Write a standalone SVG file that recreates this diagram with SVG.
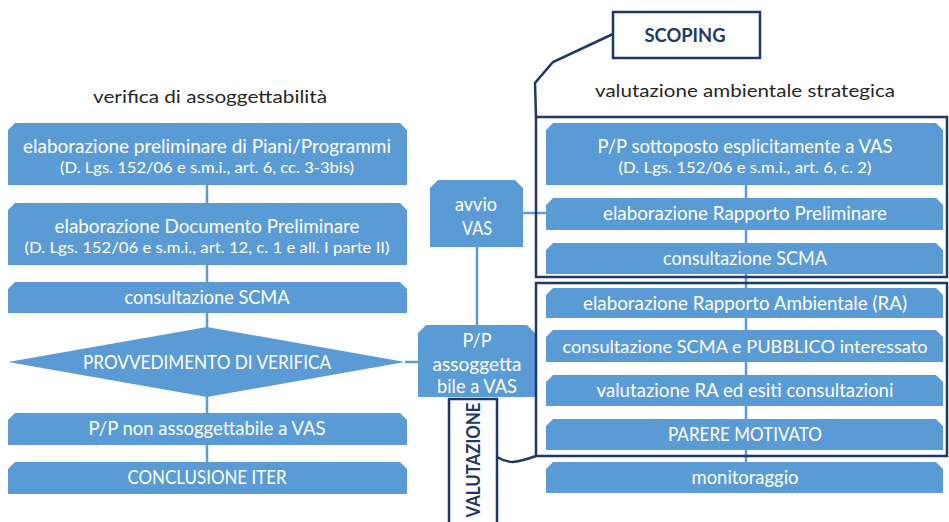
<svg xmlns="http://www.w3.org/2000/svg" width="949" height="522" viewBox="0 0 949 522">
<style>
.bg{fill:#fff}
.box{fill:#5B9BD5}
.t{font-family:Lato,'Liberation Sans',sans-serif;fill:#fff;text-anchor:middle;font-size:19.5px}
.s{font-size:15px}
.n{font-size:18px}
.h{font-family:Lato,'Liberation Sans',sans-serif;fill:#262626;text-anchor:middle;font-size:18px}
.lab{font-family:Lato,'Liberation Sans',sans-serif;fill:#1F3864;text-anchor:middle;font-size:19px;font-weight:bold}
.frame{fill:none;stroke:#1F3864;stroke-width:2.5}
.lbox{fill:#fff;stroke:#1F3864;stroke-width:2.5}
.conn{fill:none;stroke:#5B9BD5;stroke-width:2.5}
</style>
<rect class="bg" x="0" y="0" width="949" height="522"/>

<g id="connectors">
  <line class="conn" x1="207" y1="185" x2="207" y2="462"/>
  <line class="conn" x1="405" y1="362" x2="418" y2="362"/>
  <line class="conn" x1="477" y1="247" x2="477" y2="325"/>
  <line class="conn" x1="523" y1="213" x2="546" y2="213"/>
  <line class="conn" x1="746" y1="185" x2="746" y2="462"/>
</g>

<g id="headers">
  <text class="h" x="210" y="103" textLength="234" lengthAdjust="spacingAndGlyphs">verifica di assoggettabilità</text>
  <text class="h" x="745" y="97" textLength="300" lengthAdjust="spacingAndGlyphs">valutazione ambientale strategica</text>
</g>

<g id="v1">
  <path class="box" d="M8,130 L15,123 L400,123 L407,130 L407,185 L8,185 Z"/>
  <text class="t" x="207" y="153" textLength="368" lengthAdjust="spacingAndGlyphs">elaborazione preliminare di Piani/Programmi</text>
  <text class="t s" x="207" y="173" textLength="294" lengthAdjust="spacingAndGlyphs">(D. Lgs. 152/06 e s.m.i., art. 6, cc. 3-3bis)</text>
</g>
<g id="v2">
  <path class="box" d="M8,210 L15,203 L400,203 L407,210 L407,265 L8,265 Z"/>
  <text class="t" x="207" y="233" textLength="305" lengthAdjust="spacingAndGlyphs">elaborazione Documento Preliminare</text>
  <text class="t s" x="207" y="253" textLength="365" lengthAdjust="spacingAndGlyphs">(D. Lgs. 152/06 e s.m.i., art. 12, c. 1 e all. I parte II)</text>
</g>
<g id="v3">
  <path class="box" d="M8,289 L15,282 L400,282 L407,289 L407,313 L8,313 Z"/>
  <text class="t" x="207" y="304" textLength="165" lengthAdjust="spacingAndGlyphs">consultazione SCMA</text>
</g>
<g id="v4">
  <polygon class="box" points="8,362 207,327 405,362 207,397"/>
  <text class="t" x="207" y="369" textLength="248" lengthAdjust="spacingAndGlyphs">PROVVEDIMENTO DI VERIFICA</text>
</g>
<g id="v5">
  <path class="box" d="M8,420 L15,413 L400,413 L407,420 L407,445 L8,445 Z"/>
  <text class="t" x="207" y="435" textLength="237" lengthAdjust="spacingAndGlyphs">P/P non assoggettabile a VAS</text>
</g>
<g id="v6">
  <path class="box" d="M8,469 L15,462 L400,462 L407,469 L407,494 L8,494 Z"/>
  <text class="t" x="207" y="484" textLength="159" lengthAdjust="spacingAndGlyphs">CONCLUSIONE ITER</text>
</g>

<g id="avvio">
  <path class="box" d="M430,188 L438,180 L515,180 L523,188 L523,247 L430,247 Z"/>
  <text class="t" x="476" y="211" textLength="42" lengthAdjust="spacingAndGlyphs">avvio</text>
  <text class="t" x="477" y="235" textLength="30" lengthAdjust="spacingAndGlyphs">VAS</text>
</g>
<g id="assoggettabile">
  <path class="box" d="M418,333 L426,325 L527,325 L535,333 L535,397 L418,397 Z"/>
  <text class="t" x="477" y="347" textLength="29" lengthAdjust="spacingAndGlyphs">P/P</text>
  <text class="t" x="477" y="371" textLength="89" lengthAdjust="spacingAndGlyphs">assoggetta</text>
  <text class="t" x="477" y="393" textLength="80" lengthAdjust="spacingAndGlyphs">bile a VAS</text>
</g>

<g id="r1">
  <path class="box" d="M546,130 L553,123 L936,123 L943,130 L943,185 L546,185 Z"/>
  <text class="t" x="745" y="153" textLength="295" lengthAdjust="spacingAndGlyphs">P/P sottoposto esplicitamente a VAS</text>
  <text class="t s" x="745" y="173" textLength="253" lengthAdjust="spacingAndGlyphs">(D. Lgs. 152/06 e s.m.i., art. 6, c. 2)</text>
</g>
<g id="r2">
  <path class="box" d="M546,205 L553,198 L936,198 L943,205 L943,230 L546,230 Z"/>
  <text class="t" x="745" y="220" textLength="284" lengthAdjust="spacingAndGlyphs">elaborazione Rapporto Preliminare</text>
</g>
<g id="r3">
  <path class="box" d="M546,250 L553,243 L936,243 L943,250 L943,274 L546,274 Z"/>
  <text class="t" x="745" y="265" textLength="164" lengthAdjust="spacingAndGlyphs">consultazione SCMA</text>
</g>
<g id="r4">
  <path class="box" d="M546,295 L553,288 L936,288 L943,295 L943,318 L546,318 Z"/>
  <text class="t" x="745" y="310" textLength="324" lengthAdjust="spacingAndGlyphs">elaborazione Rapporto Ambientale (RA)</text>
</g>
<g id="r5">
  <path class="box" d="M546,337 L553,330 L936,330 L943,337 L943,362 L546,362 Z"/>
  <text class="t n" x="745" y="353" textLength="365" lengthAdjust="spacingAndGlyphs">consultazione SCMA e PUBBLICO interessato</text>
</g>
<g id="r6">
  <path class="box" d="M546,382 L553,375 L936,375 L943,382 L943,406 L546,406 Z"/>
  <text class="t" x="745" y="397" textLength="297" lengthAdjust="spacingAndGlyphs">valutazione RA ed esiti consultazioni</text>
</g>
<g id="r7">
  <path class="box" d="M546,426 L553,419 L936,419 L943,426 L943,450 L546,450 Z"/>
  <text class="t" x="745" y="441" textLength="154" lengthAdjust="spacingAndGlyphs">PARERE MOTIVATO</text>
</g>
<g id="r8">
  <path class="box" d="M546,469 L553,462 L936,462 L943,469 L943,493 L546,493 Z"/>
  <text class="t" x="745" y="484" textLength="107" lengthAdjust="spacingAndGlyphs">monitoraggio</text>
</g>

<g id="scoping">
  <rect class="frame" x="536" y="117" width="411" height="160"/>
  <polyline class="frame" points="613,34 553,62 535,83 536,117"/>
  <rect class="lbox" x="613" y="12" width="147" height="46"/>
  <text class="lab" x="685" y="42" textLength="81" lengthAdjust="spacingAndGlyphs">SCOPING</text>
</g>

<g id="valutazione">
  <rect class="frame" x="536" y="283" width="411" height="173"/>
  <path class="frame" d="M497,457 Q505,462 513,462 Q522,461 536,456"/>
  <rect class="lbox" x="449" y="399" width="48" height="135"/>
  <text class="lab" transform="translate(480,460) rotate(-90)" x="0" y="0" textLength="115" lengthAdjust="spacingAndGlyphs">VALUTAZIONE</text>
</g>
</svg>
